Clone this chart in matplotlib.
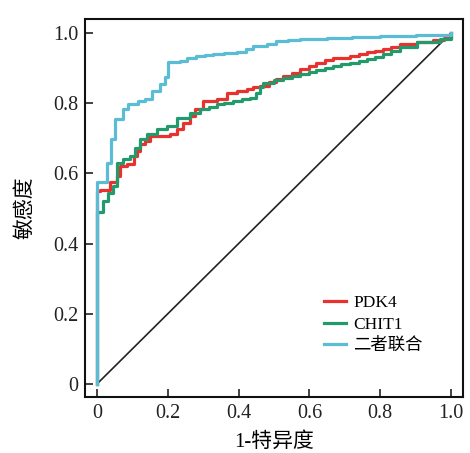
import numpy as np
import matplotlib
matplotlib.use("Agg")
import matplotlib.pyplot as plt

plt.rcParams['font.family'] = ['Liberation Serif', 'Noto Sans CJK SC']

# ROC corner points (1-specificity, sensitivity)
pdk4_fpr = [0, 0, 0.008, 0.037, 0.056, 0.065, 0.084, 0.103, 0.112, 0.121, 0.136, 0.15,
            0.178, 0.206, 0.225, 0.244, 0.263, 0.277, 0.3, 0.338, 0.366, 0.395, 0.423, 0.44,
            0.46, 0.485, 0.507, 0.526, 0.55, 0.573, 0.6, 0.62, 0.645, 0.667, 0.715, 0.74,
            0.762, 0.785, 0.809, 0.83, 0.856, 0.903, 0.95, 0.98, 1.0]
pdk4_tpr = [0, 0.55, 0.554, 0.574, 0.592, 0.621, 0.626, 0.649, 0.664, 0.683, 0.692, 0.707,
            0.707, 0.711, 0.726, 0.745, 0.764, 0.783, 0.807, 0.811, 0.83, 0.834, 0.84, 0.845,
            0.85, 0.86, 0.868, 0.878, 0.886, 0.897, 0.905, 0.916, 0.922, 0.93, 0.936, 0.94,
            0.945, 0.95, 0.954, 0.96, 0.969, 0.974, 0.979, 0.985, 1.0]

chit1_fpr = [0, 0, 0.004, 0.018, 0.031, 0.045, 0.056, 0.074, 0.093, 0.107, 0.121, 0.14,
             0.168, 0.197, 0.225, 0.263, 0.29, 0.315, 0.338, 0.36, 0.385, 0.41, 0.432, 0.45,
             0.46, 0.47, 0.5, 0.526, 0.55, 0.573, 0.6, 0.62, 0.645, 0.667, 0.69, 0.715,
             0.74, 0.762, 0.785, 0.809, 0.83, 0.856, 0.903, 0.969, 1.0]
chit1_tpr = [0, 0.489, 0.489, 0.521, 0.545, 0.564, 0.63, 0.64, 0.649, 0.673, 0.697, 0.711,
             0.726, 0.735, 0.759, 0.773, 0.783, 0.79, 0.797, 0.802, 0.807, 0.812, 0.816, 0.83,
             0.845, 0.859, 0.866, 0.873, 0.878, 0.883, 0.889, 0.895, 0.901, 0.907, 0.911,
             0.915, 0.92, 0.926, 0.933, 0.94, 0.949, 0.959, 0.974, 0.983, 1.0]

combo_fpr = [0, 0, 0.027, 0.04, 0.05, 0.074, 0.088, 0.116, 0.136, 0.154, 0.178, 0.192,
             0.2, 0.234, 0.255, 0.28, 0.305, 0.328, 0.36, 0.395, 0.42, 0.44, 0.48, 0.507,
             0.54, 0.573, 0.65, 0.72, 0.8, 0.9, 1.0]
combo_tpr = [0, 0.575, 0.63, 0.697, 0.754, 0.783, 0.797, 0.807, 0.811, 0.836, 0.854, 0.874,
             0.917, 0.921, 0.928, 0.936, 0.938, 0.94, 0.942, 0.945, 0.955, 0.964, 0.969, 0.976,
             0.979, 0.983, 0.985, 0.988, 0.992, 0.995, 1.0]

series = [("PDK4", pdk4_fpr, pdk4_tpr, "#e8322e"),
          ("CHIT1", chit1_fpr, chit1_tpr, "#239a6b"),
          ("二者联合", combo_fpr, combo_tpr, "#5bbcd6")]

ticks = [0, 0.2, 0.4, 0.6, 0.8, 1.0]
tick_labels = ["0", "0.2", "0.4", "0.6", "0.8", "1.0"]

fig = plt.figure(figsize=(4.7, 4.53), dpi=100)
ax = fig.add_axes([0.181, 0.124, 0.804, 0.834])

ax.plot([0, 1], [0, 1], color="#222222", lw=1.2)
for name, fpr, tpr, col in series:
    ax.plot(fpr, tpr, drawstyle="steps-post", color=col, lw=2.3, label=name)

ax.set_xlim(-0.034, 1.034)
ax.set_ylim(-0.037, 1.04)
ax.set_xticks(ticks)
ax.set_xticklabels(tick_labels)
ax.set_yticks(ticks)
ax.set_yticklabels(tick_labels)
ax.tick_params(direction="in", length=6, width=1.2, labelsize=14.5, colors="#222222", pad=5)
for sp in ax.spines.values():
    sp.set_linewidth(1.5)
    sp.set_color("#111111")

ax.set_xlabel("1-特异度", fontsize=15, labelpad=7)
ax.set_ylabel("敏感度", fontsize=15, labelpad=13)

ax.legend(loc="upper left", bbox_to_anchor=(0.59, 0.31), frameon=False, fontsize=12.5,
          handlelength=1.3, handletextpad=0.4, labelspacing=0.3)

fig.savefig("out.png", dpi=100)
